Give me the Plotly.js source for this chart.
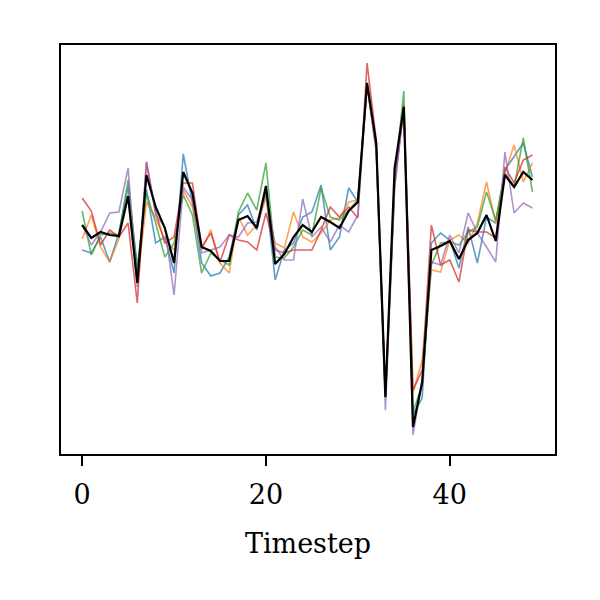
<!DOCTYPE html>
<html>
<head>
<meta charset="utf-8">
<script src="https://cdn.plot.ly/plotly-3.0.1.min.js"></script>
<style>html,body{margin:0;padding:0;background:#fff;}#chart{width:600px;height:600px;}</style>
</head>
<body>
<div id="chart"></div>
<script>
const timesteps = Array.from({length: 50}, (_, i) => i);
const xTickVals = [0, 20, 40];
const xTickText = ["0", "20", "40"];

const seriesBlue = [0.50,0.47,0.63,0.38,0.67,1.13,0.33,1.10,0.57,0.63,0.27,1.46,0.97,0.37,0.24,0.27,0.43,0.85,0.95,0.70,1.07,0.20,0.50,0.57,0.83,0.88,1.15,0.50,0.63,1.12,0.98,2.15,1.50,-0.97,1.15,1.93,-1.15,-0.98,0.57,0.67,0.60,0.32,0.73,0.37,0.83,0.77,1.30,1.43,1.57,1.23];
const seriesOrange = [0.61,0.85,0.53,0.38,0.61,1.03,0.17,0.98,0.82,0.60,0.50,1.10,0.93,0.50,0.70,0.37,0.27,0.83,0.65,0.75,1.02,0.57,0.52,0.88,0.63,0.58,0.67,0.80,0.82,0.98,1.00,2.15,1.52,-0.95,1.22,1.92,-0.93,-0.60,0.30,0.28,0.60,0.65,0.57,0.77,1.18,0.77,1.27,1.55,1.18,1.37];
const seriesGreen = [0.89,0.45,0.65,0.67,0.65,1.20,0.30,1.07,0.77,0.43,0.57,1.05,0.85,0.27,0.47,0.40,0.35,0.88,1.07,0.90,1.37,0.43,0.42,0.53,0.70,0.65,1.12,0.83,0.80,0.90,1.00,2.15,1.55,-0.98,1.20,2.09,-1.12,-0.85,0.35,0.57,0.58,0.55,0.68,0.73,1.08,0.80,1.27,1.13,1.62,1.08];
const seriesRed = [1.02,0.89,0.55,0.70,0.63,0.77,-0.03,1.38,0.88,0.57,0.63,1.17,1.17,0.53,0.67,0.38,0.65,0.60,0.58,0.50,0.87,0.50,0.47,0.50,0.50,0.50,0.70,0.93,0.83,0.93,0.82,2.37,1.60,-0.95,1.15,1.95,-0.90,-0.70,0.75,0.35,0.40,0.18,0.70,0.68,0.68,0.62,1.33,1.17,1.40,1.45];
const seriesPurple = [0.75,0.55,0.68,0.87,0.88,1.32,0.13,1.38,0.85,0.73,0.05,1.13,1.00,0.47,0.50,0.53,0.65,0.63,0.77,0.78,1.07,0.53,0.40,0.40,1.01,0.63,0.73,0.58,0.75,0.68,0.85,2.15,1.48,-1.10,1.12,1.92,-1.35,-0.80,0.38,0.35,0.65,0.47,0.87,0.67,0.53,0.38,1.48,0.87,0.97,0.92];
const seriesMean = [0.75,0.62,0.68,0.65,0.64,1.04,0.17,1.25,0.93,0.72,0.37,1.28,1.07,0.53,0.49,0.39,0.39,0.80,0.84,0.72,1.14,0.36,0.46,0.63,0.75,0.68,0.83,0.78,0.72,0.89,0.98,2.17,1.57,-0.97,1.32,1.93,-1.27,-0.82,0.50,0.54,0.59,0.41,0.60,0.67,0.85,0.59,1.25,1.13,1.28,1.20];

const colors = ["#1f77b4", "#ff7f0e", "#2ca02c", "#d62728", "#9467bd"];
const samples = [seriesBlue, seriesOrange, seriesGreen, seriesRed, seriesPurple];

const traces = samples.map((ys, k) => ({
  x: timesteps, y: ys, type: "scatter", mode: "lines",
  line: {color: colors[k], width: 1.6}, opacity: 0.72, showlegend: false, hoverinfo: "skip"
}));
traces.push({
  x: timesteps, y: seriesMean, type: "scatter", mode: "lines",
  line: {color: "#000000", width: 2.2}, showlegend: false, hoverinfo: "skip"
});

const layout = {
  width: 600, height: 600,
  margin: {l: 61, r: 45, t: 45, b: 146},
  paper_bgcolor: "#ffffff", plot_bgcolor: "#ffffff",
  font: {family: "DejaVu Serif, serif", color: "#000000", size: 27},
  xaxis: {
    range: [-2.3, 51.45],
    tickvals: xTickVals, ticktext: xTickText,
    ticks: "outside", ticklen: 10, tickwidth: 2.2, tickcolor: "#000",
    ticklabelstandoff: 5,
    showgrid: false, zeroline: false,
    showline: true, linecolor: "#000", linewidth: 2.2, mirror: true,
    tickfont: {family: "DejaVu Serif, serif", size: 27, color: "#000"},
    title: {text: "Timestep", font: {family: "DejaVu Serif, serif", size: 27, color: "#000"}, standoff: 26}
  },
  yaxis: {
    range: [-1.54, 2.55],
    showticklabels: false, ticks: "",
    showgrid: false, zeroline: false,
    showline: true, linecolor: "#000", linewidth: 2.2, mirror: true
  }
};

Plotly.newPlot("chart", traces, layout, {staticPlot: true, displayModeBar: false});
</script>
</body>
</html>
